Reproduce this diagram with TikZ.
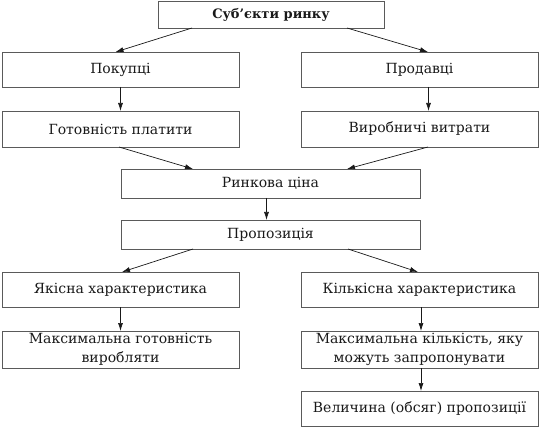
\documentclass[tikz,border=0pt]{standalone}
\usepackage{fontspec}
\setmainfont{DejaVu Serif}
\usetikzlibrary{arrows.meta}
\definecolor{boxline}{RGB}{90,90,90}
\definecolor{ink}{RGB}{25,25,25}

\begin{document}
\begin{tikzpicture}[x=1pt, y=-1pt,
  every node/.style={font=\fontsize{14}{18.5}\selectfont, text=ink},
  blok/.style={draw=boxline, line width=0.8pt, inner sep=0pt, outer sep=0pt, align=center},
  wide/.style={blok, minimum width=237pt, minimum height=35pt},
  mid/.style={blok, minimum width=299pt, minimum height=29pt},
  arr/.style={-{Latex[length=8pt,width=5pt]}, ink, line width=0.7pt}]
\useasboundingbox (0,0) rectangle (540,427);
\node[blok, minimum width=226pt, minimum height=27pt, font=\fontsize{13}{16}\selectfont\bfseries] (subj) at (271,14.5) {Суб’єкти ринку};
\node[wide] (pok) at (120.5,69.5) {Покупці};
\node[wide] (prod) at (419.5,69.5) {Продавці};
\node[wide, minimum height=36pt] (got) at (120.5,129) {Готовність платити};
\node[wide, minimum height=36pt] (vyr) at (419.5,129) {Виробничі витрати};
\node[mid] (rynk) at (270.5,183.5) {Ринкова ціна};
\node[mid] (prop) at (270.5,234.5) {Пропозиція};
\node[wide] (yak) at (120.5,289.5) {Якісна характеристика};
\node[wide] (kil) at (419.5,289.5) {Кількісна характеристика};
\node[wide, minimum height=37pt] (maxg) at (120.5,349.5) {Максимальна готовність\\виробляти};
\node[wide, minimum height=37pt] (maxk) at (419.5,349.5) {Максимальна кількість, яку\\можуть запропонувати};
\node[wide] (vel) at (419.5,408.5) {Величина (обсяг) пропозиції};
% arrows
\draw[arr] ([xshift=-79pt]subj.south) -- ([xshift=-5pt]pok.north);
\draw[arr] ([xshift=76pt]subj.south) -- ([xshift=8.5pt]prod.north);
\draw[arr] (pok.south) -- (got.north);
\draw[arr] ([xshift=9pt]prod.south) -- ([xshift=9pt]vyr.north);
\draw[arr] ([xshift=-1.5pt]got.south) -- ([xshift=-77.5pt]rynk.north);
\draw[arr] ([xshift=8.5pt]vyr.south) -- ([xshift=76.5pt]rynk.north);
\draw[arr] ([xshift=-4pt]rynk.south) -- ([xshift=-4pt]prop.north);
\draw[arr] ([xshift=-77.5pt]prop.south) -- ([xshift=1.5pt]yak.north);
\draw[arr] ([xshift=77.5pt]prop.south) -- ([xshift=-1.5pt]kil.north);
\draw[arr] (yak.south) -- (maxg.north);
\draw[arr] ([xshift=1.5pt]kil.south) -- ([xshift=1.5pt]maxk.north);
\draw[arr] ([xshift=1.5pt]maxk.south) -- ([xshift=1.5pt]vel.north);
\end{tikzpicture}
\end{document}
